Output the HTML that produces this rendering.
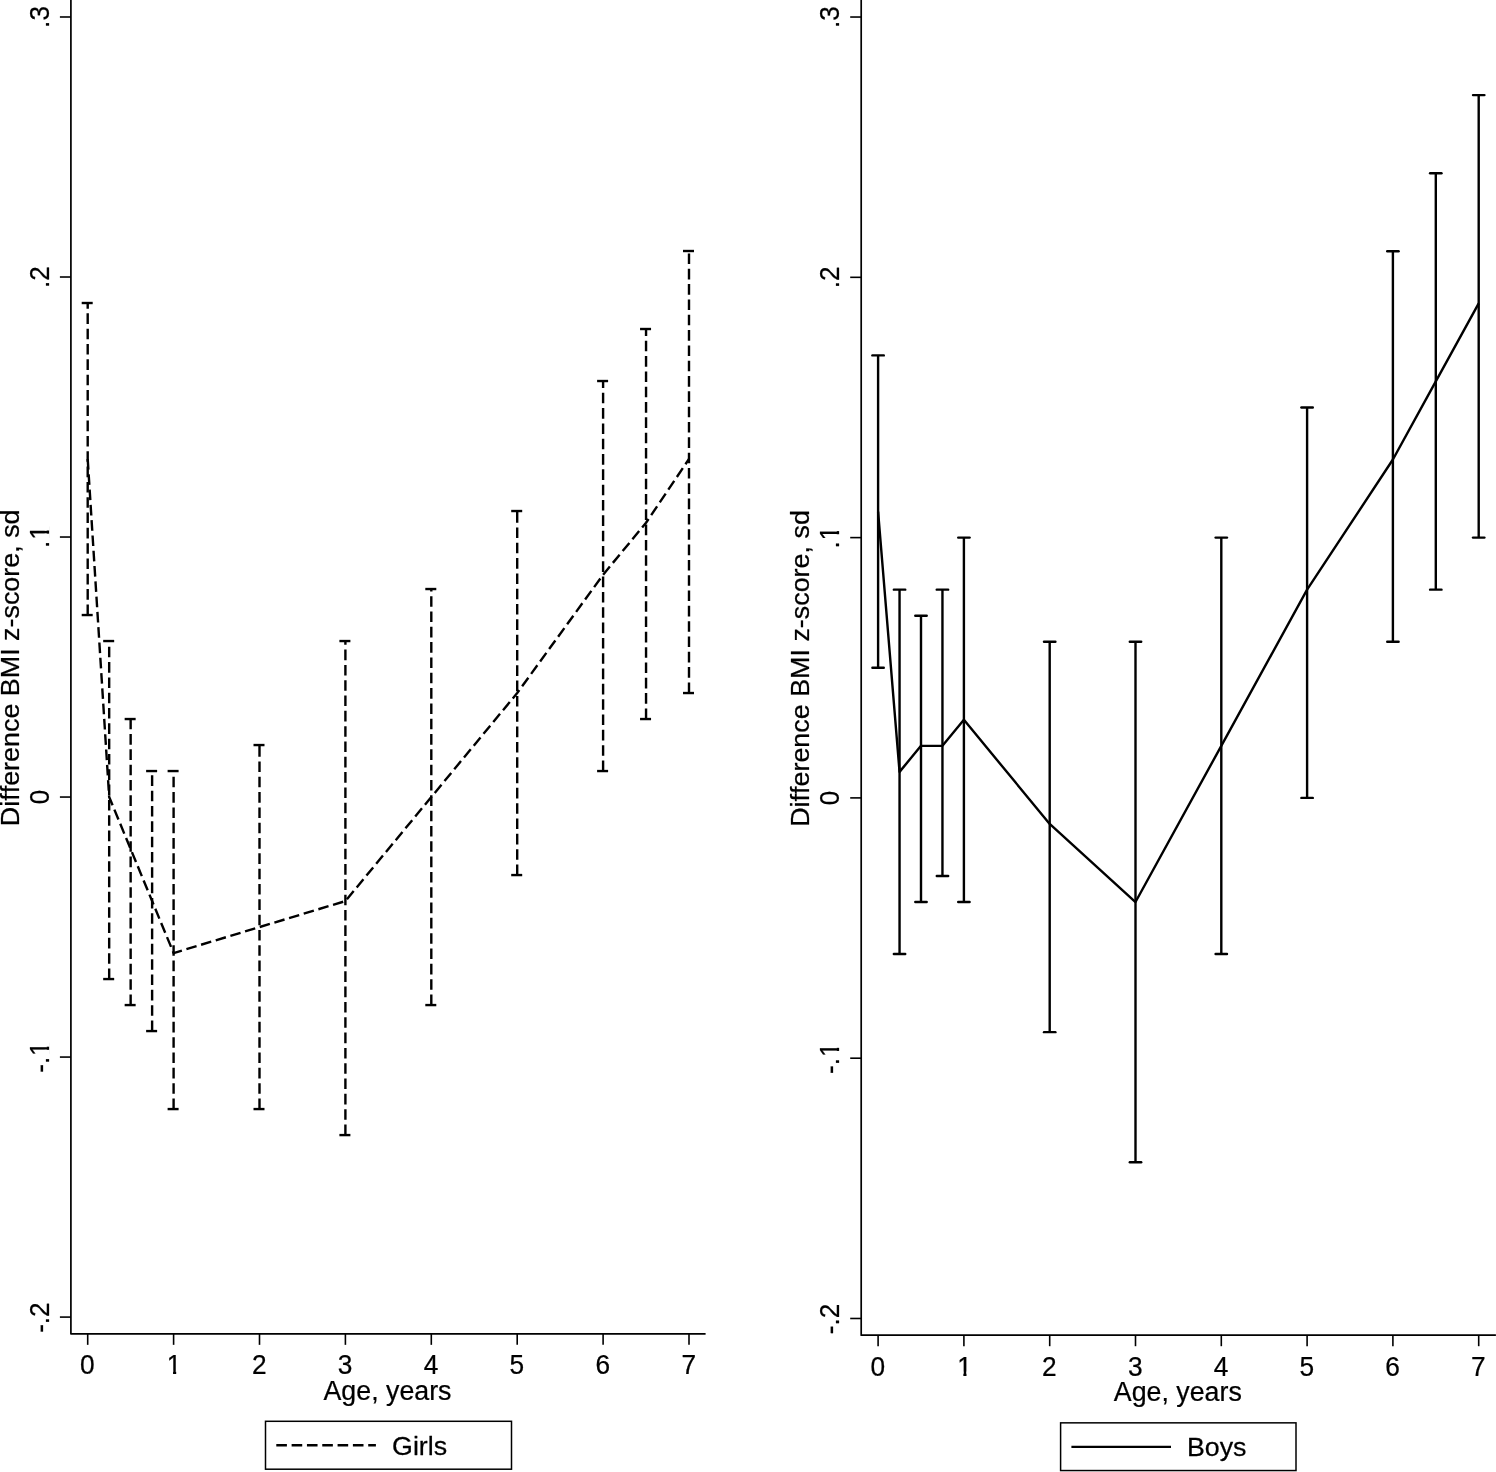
<!DOCTYPE html>
<html lang="en"><head><meta charset="utf-8"><title>Difference BMI z-score by age</title>
<style>
html,body{margin:0;padding:0;background:#fff}
body{width:1496px;height:1472px;overflow:hidden}
svg{display:block}
svg text{font-kerning:none;font-family:"Liberation Sans",Arial,Helvetica,sans-serif;fill:#000;stroke:#000;stroke-width:0.25px;stroke-linejoin:round}
</style></head>
<body>
<svg width="1496" height="1472" viewBox="0 0 1496 1472">
<rect width="1496" height="1472" fill="#fff"/>
<g id="girls">
<path d="M70.90 0V1333.85H705.60" fill="none" stroke="#000" stroke-width="1.7" stroke-linejoin="round"/>
<line x1="59.90" y1="16.99" x2="70.90" y2="16.99" stroke="#000" stroke-width="1.6"/>
<g transform="translate(48.60 16.99) rotate(-90) scale(0.975 1)"><text x="-11.18" y="0" font-size="26.8">.3</text></g>
<line x1="59.90" y1="277.01" x2="70.90" y2="277.01" stroke="#000" stroke-width="1.6"/>
<g transform="translate(48.60 277.01) rotate(-90) scale(0.975 1)"><text x="-11.18" y="0" font-size="26.8">.2</text></g>
<line x1="59.90" y1="537.03" x2="70.90" y2="537.03" stroke="#000" stroke-width="1.6"/>
<g transform="translate(48.60 537.03) rotate(-90) scale(0.975 1)"><text x="-11.18" y="0" font-size="26.8">.<tspan dx="0.88">1</tspan></text><rect x="-2.46" y="-3.93" width="5.92" height="4.98" fill="#fff"/><rect x="6.68" y="-3.93" width="5.68" height="4.98" fill="#fff"/></g>
<line x1="59.90" y1="797.05" x2="70.90" y2="797.05" stroke="#000" stroke-width="1.6"/>
<g transform="translate(48.60 797.05) rotate(-90) scale(0.975 1)"><text x="-7.45" y="0" font-size="26.8">0</text></g>
<line x1="59.90" y1="1057.07" x2="70.90" y2="1057.07" stroke="#000" stroke-width="1.6"/>
<g transform="translate(48.60 1057.57) rotate(-90) scale(0.975 1)"><text x="-15.64" y="0" font-size="26.8">-.<tspan dx="0.88">1</tspan></text><rect x="2.00" y="-3.93" width="5.92" height="4.98" fill="#fff"/><rect x="11.14" y="-3.93" width="5.68" height="4.98" fill="#fff"/></g>
<line x1="59.90" y1="1317.09" x2="70.90" y2="1317.09" stroke="#000" stroke-width="1.6"/>
<g transform="translate(48.60 1317.59) rotate(-90) scale(0.975 1)"><text x="-15.64" y="0" font-size="26.8">-.2</text></g>
<text transform="translate(18.55 667.82) rotate(-90) scale(1.063 1)" font-size="25.3" text-anchor="middle">Difference BMI z-score, sd</text>
<line x1="87.70" y1="1333.85" x2="87.70" y2="1344.85" stroke="#000" stroke-width="1.6"/>
<g transform="translate(87.40 1373.85) scale(0.97 1)"><text x="-7.54" y="0" font-size="27.1">0</text></g>
<line x1="173.60" y1="1333.85" x2="173.60" y2="1344.85" stroke="#000" stroke-width="1.6"/>
<g transform="translate(173.30 1373.85) scale(0.97 1)"><text x="-6.65" y="0" font-size="27.1">1</text><rect x="-6.25" y="-3.97" width="5.99" height="5.02" fill="#fff"/><rect x="2.99" y="-3.97" width="5.74" height="5.02" fill="#fff"/></g>
<line x1="259.50" y1="1333.85" x2="259.50" y2="1344.85" stroke="#000" stroke-width="1.6"/>
<g transform="translate(259.20 1373.85) scale(0.97 1)"><text x="-7.54" y="0" font-size="27.1">2</text></g>
<line x1="345.40" y1="1333.85" x2="345.40" y2="1344.85" stroke="#000" stroke-width="1.6"/>
<g transform="translate(345.10 1373.85) scale(0.97 1)"><text x="-7.54" y="0" font-size="27.1">3</text></g>
<line x1="431.30" y1="1333.85" x2="431.30" y2="1344.85" stroke="#000" stroke-width="1.6"/>
<g transform="translate(431.00 1373.85) scale(0.97 1)"><text x="-7.54" y="0" font-size="27.1">4</text></g>
<line x1="517.20" y1="1333.85" x2="517.20" y2="1344.85" stroke="#000" stroke-width="1.6"/>
<g transform="translate(516.90 1373.85) scale(0.97 1)"><text x="-7.54" y="0" font-size="27.1">5</text></g>
<line x1="603.10" y1="1333.85" x2="603.10" y2="1344.85" stroke="#000" stroke-width="1.6"/>
<g transform="translate(602.80 1373.85) scale(0.97 1)"><text x="-7.54" y="0" font-size="27.1">6</text></g>
<line x1="689.00" y1="1333.85" x2="689.00" y2="1344.85" stroke="#000" stroke-width="1.6"/>
<g transform="translate(688.70 1373.85) scale(0.97 1)"><text x="-7.54" y="0" font-size="27.1">7</text></g>
<text transform="translate(387.50 1400.15) scale(0.957 1)" font-size="28" text-anchor="middle">Age, years</text>
<line x1="87.70" y1="615.04" x2="87.70" y2="303.01" stroke="#000" stroke-width="2.4" stroke-dasharray="10.6 4.72"/>
<line x1="81.70" y1="615.04" x2="92.70" y2="615.04" stroke="#000" stroke-width="2.4"/>
<line x1="81.70" y1="303.01" x2="92.70" y2="303.01" stroke="#000" stroke-width="2.4"/>
<line x1="109.18" y1="979.06" x2="109.18" y2="641.04" stroke="#000" stroke-width="2.4" stroke-dasharray="10.6 4.72"/>
<line x1="103.18" y1="979.06" x2="114.18" y2="979.06" stroke="#000" stroke-width="2.4"/>
<line x1="103.18" y1="641.04" x2="114.18" y2="641.04" stroke="#000" stroke-width="2.4"/>
<line x1="130.65" y1="1005.07" x2="130.65" y2="719.04" stroke="#000" stroke-width="2.4" stroke-dasharray="10.6 4.72"/>
<line x1="124.65" y1="1005.07" x2="135.65" y2="1005.07" stroke="#000" stroke-width="2.4"/>
<line x1="124.65" y1="719.04" x2="135.65" y2="719.04" stroke="#000" stroke-width="2.4"/>
<line x1="152.12" y1="1031.07" x2="152.12" y2="771.05" stroke="#000" stroke-width="2.4" stroke-dasharray="10.6 4.72"/>
<line x1="146.12" y1="1031.07" x2="157.12" y2="1031.07" stroke="#000" stroke-width="2.4"/>
<line x1="146.12" y1="771.05" x2="157.12" y2="771.05" stroke="#000" stroke-width="2.4"/>
<line x1="173.60" y1="1109.07" x2="173.60" y2="771.05" stroke="#000" stroke-width="2.4" stroke-dasharray="10.6 4.72"/>
<line x1="167.60" y1="1109.07" x2="178.60" y2="1109.07" stroke="#000" stroke-width="2.4"/>
<line x1="167.60" y1="771.05" x2="178.60" y2="771.05" stroke="#000" stroke-width="2.4"/>
<line x1="259.50" y1="1109.07" x2="259.50" y2="745.05" stroke="#000" stroke-width="2.4" stroke-dasharray="10.6 4.72"/>
<line x1="253.50" y1="1109.07" x2="264.50" y2="1109.07" stroke="#000" stroke-width="2.4"/>
<line x1="253.50" y1="745.05" x2="264.50" y2="745.05" stroke="#000" stroke-width="2.4"/>
<line x1="345.40" y1="1135.08" x2="345.40" y2="641.04" stroke="#000" stroke-width="2.4" stroke-dasharray="10.6 4.72"/>
<line x1="339.40" y1="1135.08" x2="350.40" y2="1135.08" stroke="#000" stroke-width="2.4"/>
<line x1="339.40" y1="641.04" x2="350.40" y2="641.04" stroke="#000" stroke-width="2.4"/>
<line x1="431.30" y1="1005.07" x2="431.30" y2="589.03" stroke="#000" stroke-width="2.4" stroke-dasharray="10.6 4.72"/>
<line x1="425.30" y1="1005.07" x2="436.30" y2="1005.07" stroke="#000" stroke-width="2.4"/>
<line x1="425.30" y1="589.03" x2="436.30" y2="589.03" stroke="#000" stroke-width="2.4"/>
<line x1="517.20" y1="875.06" x2="517.20" y2="511.03" stroke="#000" stroke-width="2.4" stroke-dasharray="10.6 4.72"/>
<line x1="511.20" y1="875.06" x2="522.20" y2="875.06" stroke="#000" stroke-width="2.4"/>
<line x1="511.20" y1="511.03" x2="522.20" y2="511.03" stroke="#000" stroke-width="2.4"/>
<line x1="603.10" y1="771.05" x2="603.10" y2="381.02" stroke="#000" stroke-width="2.4" stroke-dasharray="10.6 4.72"/>
<line x1="597.10" y1="771.05" x2="608.10" y2="771.05" stroke="#000" stroke-width="2.4"/>
<line x1="597.10" y1="381.02" x2="608.10" y2="381.02" stroke="#000" stroke-width="2.4"/>
<line x1="646.05" y1="719.04" x2="646.05" y2="329.01" stroke="#000" stroke-width="2.4" stroke-dasharray="10.6 4.72"/>
<line x1="640.05" y1="719.04" x2="651.05" y2="719.04" stroke="#000" stroke-width="2.4"/>
<line x1="640.05" y1="329.01" x2="651.05" y2="329.01" stroke="#000" stroke-width="2.4"/>
<line x1="689.00" y1="693.04" x2="689.00" y2="251.01" stroke="#000" stroke-width="2.4" stroke-dasharray="10.6 4.72"/>
<line x1="683.00" y1="693.04" x2="694.00" y2="693.04" stroke="#000" stroke-width="2.4"/>
<line x1="683.00" y1="251.01" x2="694.00" y2="251.01" stroke="#000" stroke-width="2.4"/>
<polyline points="87.70,459.02 109.18,797.05 130.65,849.05 152.12,901.06 173.60,953.06 259.50,927.06 345.40,901.06 431.30,797.05 517.20,693.04 603.10,574.73 646.05,522.73 689.00,459.02" fill="none" stroke="#000" stroke-width="2.4" stroke-linejoin="round" stroke-dasharray="10.6 4.72"/>
<rect x="265.50" y="1421.30" width="246.00" height="47.90" fill="#fff" stroke="#000" stroke-width="1.5"/>
<line x1="276.30" y1="1445.30" x2="375.90" y2="1445.30" stroke="#000" stroke-width="2.4" stroke-dasharray="10.6 4.72"/>
<text transform="translate(392.10 1454.60) scale(1.05 1)" font-size="25.5">Girls</text>
</g>
<g id="boys">
<path d="M861.20 0V1335.20H1495.90" fill="none" stroke="#000" stroke-width="1.7" stroke-linejoin="round"/>
<line x1="850.20" y1="17.03" x2="861.20" y2="17.03" stroke="#000" stroke-width="1.6"/>
<g transform="translate(839.10 17.03) rotate(-90) scale(0.975 1)"><text x="-11.18" y="0" font-size="26.8">.3</text></g>
<line x1="850.20" y1="277.32" x2="861.20" y2="277.32" stroke="#000" stroke-width="1.6"/>
<g transform="translate(839.10 277.32) rotate(-90) scale(0.975 1)"><text x="-11.18" y="0" font-size="26.8">.2</text></g>
<line x1="850.20" y1="537.61" x2="861.20" y2="537.61" stroke="#000" stroke-width="1.6"/>
<g transform="translate(839.10 537.61) rotate(-90) scale(0.975 1)"><text x="-11.18" y="0" font-size="26.8">.<tspan dx="0.88">1</tspan></text><rect x="-2.46" y="-3.93" width="5.92" height="4.98" fill="#fff"/><rect x="6.68" y="-3.93" width="5.68" height="4.98" fill="#fff"/></g>
<line x1="850.20" y1="797.90" x2="861.20" y2="797.90" stroke="#000" stroke-width="1.6"/>
<g transform="translate(839.10 797.90) rotate(-90) scale(0.975 1)"><text x="-7.45" y="0" font-size="26.8">0</text></g>
<line x1="850.20" y1="1058.19" x2="861.20" y2="1058.19" stroke="#000" stroke-width="1.6"/>
<g transform="translate(839.10 1058.69) rotate(-90) scale(0.975 1)"><text x="-15.64" y="0" font-size="26.8">-.<tspan dx="0.88">1</tspan></text><rect x="2.00" y="-3.93" width="5.92" height="4.98" fill="#fff"/><rect x="11.14" y="-3.93" width="5.68" height="4.98" fill="#fff"/></g>
<line x1="850.20" y1="1318.48" x2="861.20" y2="1318.48" stroke="#000" stroke-width="1.6"/>
<g transform="translate(839.10 1318.98) rotate(-90) scale(0.975 1)"><text x="-15.64" y="0" font-size="26.8">-.2</text></g>
<text transform="translate(808.85 668.50) rotate(-90) scale(1.063 1)" font-size="25.3" text-anchor="middle">Difference BMI z-score, sd</text>
<line x1="878.10" y1="1335.20" x2="878.10" y2="1346.20" stroke="#000" stroke-width="1.6"/>
<g transform="translate(877.80 1375.50) scale(0.97 1)"><text x="-7.54" y="0" font-size="27.1">0</text></g>
<line x1="963.90" y1="1335.20" x2="963.90" y2="1346.20" stroke="#000" stroke-width="1.6"/>
<g transform="translate(963.60 1375.50) scale(0.97 1)"><text x="-6.65" y="0" font-size="27.1">1</text><rect x="-6.25" y="-3.97" width="5.99" height="5.02" fill="#fff"/><rect x="2.99" y="-3.97" width="5.74" height="5.02" fill="#fff"/></g>
<line x1="1049.70" y1="1335.20" x2="1049.70" y2="1346.20" stroke="#000" stroke-width="1.6"/>
<g transform="translate(1049.40 1375.50) scale(0.97 1)"><text x="-7.54" y="0" font-size="27.1">2</text></g>
<line x1="1135.50" y1="1335.20" x2="1135.50" y2="1346.20" stroke="#000" stroke-width="1.6"/>
<g transform="translate(1135.20 1375.50) scale(0.97 1)"><text x="-7.54" y="0" font-size="27.1">3</text></g>
<line x1="1221.30" y1="1335.20" x2="1221.30" y2="1346.20" stroke="#000" stroke-width="1.6"/>
<g transform="translate(1221.00 1375.50) scale(0.97 1)"><text x="-7.54" y="0" font-size="27.1">4</text></g>
<line x1="1307.10" y1="1335.20" x2="1307.10" y2="1346.20" stroke="#000" stroke-width="1.6"/>
<g transform="translate(1306.80 1375.50) scale(0.97 1)"><text x="-7.54" y="0" font-size="27.1">5</text></g>
<line x1="1392.90" y1="1335.20" x2="1392.90" y2="1346.20" stroke="#000" stroke-width="1.6"/>
<g transform="translate(1392.60 1375.50) scale(0.97 1)"><text x="-7.54" y="0" font-size="27.1">6</text></g>
<line x1="1478.70" y1="1335.20" x2="1478.70" y2="1346.20" stroke="#000" stroke-width="1.6"/>
<g transform="translate(1478.40 1375.50) scale(0.97 1)"><text x="-7.54" y="0" font-size="27.1">7</text></g>
<text transform="translate(1177.80 1400.65) scale(0.957 1)" font-size="28" text-anchor="middle">Age, years</text>
<line x1="878.10" y1="667.75" x2="878.10" y2="355.41" stroke="#000" stroke-width="2.4"/>
<line x1="872.40" y1="667.75" x2="883.80" y2="667.75" stroke="#000" stroke-width="2.4" stroke-linecap="round"/>
<line x1="872.40" y1="355.41" x2="883.80" y2="355.41" stroke="#000" stroke-width="2.4" stroke-linecap="round"/>
<line x1="899.55" y1="954.07" x2="899.55" y2="589.67" stroke="#000" stroke-width="2.4"/>
<line x1="893.85" y1="954.07" x2="905.25" y2="954.07" stroke="#000" stroke-width="2.4" stroke-linecap="round"/>
<line x1="893.85" y1="589.67" x2="905.25" y2="589.67" stroke="#000" stroke-width="2.4" stroke-linecap="round"/>
<line x1="921.00" y1="902.02" x2="921.00" y2="615.70" stroke="#000" stroke-width="2.4"/>
<line x1="915.30" y1="902.02" x2="926.70" y2="902.02" stroke="#000" stroke-width="2.4" stroke-linecap="round"/>
<line x1="915.30" y1="615.70" x2="926.70" y2="615.70" stroke="#000" stroke-width="2.4" stroke-linecap="round"/>
<line x1="942.45" y1="875.99" x2="942.45" y2="589.67" stroke="#000" stroke-width="2.4"/>
<line x1="936.75" y1="875.99" x2="948.15" y2="875.99" stroke="#000" stroke-width="2.4" stroke-linecap="round"/>
<line x1="936.75" y1="589.67" x2="948.15" y2="589.67" stroke="#000" stroke-width="2.4" stroke-linecap="round"/>
<line x1="963.90" y1="902.02" x2="963.90" y2="537.61" stroke="#000" stroke-width="2.4"/>
<line x1="958.20" y1="902.02" x2="969.60" y2="902.02" stroke="#000" stroke-width="2.4" stroke-linecap="round"/>
<line x1="958.20" y1="537.61" x2="969.60" y2="537.61" stroke="#000" stroke-width="2.4" stroke-linecap="round"/>
<line x1="1049.70" y1="1032.16" x2="1049.70" y2="641.73" stroke="#000" stroke-width="2.4"/>
<line x1="1044.00" y1="1032.16" x2="1055.40" y2="1032.16" stroke="#000" stroke-width="2.4" stroke-linecap="round"/>
<line x1="1044.00" y1="641.73" x2="1055.40" y2="641.73" stroke="#000" stroke-width="2.4" stroke-linecap="round"/>
<line x1="1135.50" y1="1162.31" x2="1135.50" y2="641.73" stroke="#000" stroke-width="2.4"/>
<line x1="1129.80" y1="1162.31" x2="1141.20" y2="1162.31" stroke="#000" stroke-width="2.4" stroke-linecap="round"/>
<line x1="1129.80" y1="641.73" x2="1141.20" y2="641.73" stroke="#000" stroke-width="2.4" stroke-linecap="round"/>
<line x1="1221.30" y1="954.07" x2="1221.30" y2="537.61" stroke="#000" stroke-width="2.4"/>
<line x1="1215.60" y1="954.07" x2="1227.00" y2="954.07" stroke="#000" stroke-width="2.4" stroke-linecap="round"/>
<line x1="1215.60" y1="537.61" x2="1227.00" y2="537.61" stroke="#000" stroke-width="2.4" stroke-linecap="round"/>
<line x1="1307.10" y1="797.90" x2="1307.10" y2="407.46" stroke="#000" stroke-width="2.4"/>
<line x1="1301.40" y1="797.90" x2="1312.80" y2="797.90" stroke="#000" stroke-width="2.4" stroke-linecap="round"/>
<line x1="1301.40" y1="407.46" x2="1312.80" y2="407.46" stroke="#000" stroke-width="2.4" stroke-linecap="round"/>
<line x1="1392.90" y1="641.73" x2="1392.90" y2="251.29" stroke="#000" stroke-width="2.4"/>
<line x1="1387.20" y1="641.73" x2="1398.60" y2="641.73" stroke="#000" stroke-width="2.4" stroke-linecap="round"/>
<line x1="1387.20" y1="251.29" x2="1398.60" y2="251.29" stroke="#000" stroke-width="2.4" stroke-linecap="round"/>
<line x1="1435.80" y1="589.67" x2="1435.80" y2="173.20" stroke="#000" stroke-width="2.4"/>
<line x1="1430.10" y1="589.67" x2="1441.50" y2="589.67" stroke="#000" stroke-width="2.4" stroke-linecap="round"/>
<line x1="1430.10" y1="173.20" x2="1441.50" y2="173.20" stroke="#000" stroke-width="2.4" stroke-linecap="round"/>
<line x1="1478.70" y1="537.61" x2="1478.70" y2="95.12" stroke="#000" stroke-width="2.4"/>
<line x1="1473.00" y1="537.61" x2="1484.40" y2="537.61" stroke="#000" stroke-width="2.4" stroke-linecap="round"/>
<line x1="1473.00" y1="95.12" x2="1484.40" y2="95.12" stroke="#000" stroke-width="2.4" stroke-linecap="round"/>
<polyline points="878.10,511.58 899.55,771.87 921.00,745.84 942.45,745.84 963.90,719.81 1049.70,823.93 1135.50,902.02 1221.30,745.84 1307.10,589.67 1392.90,459.52 1435.80,381.44 1478.70,303.35" fill="none" stroke="#000" stroke-width="2.4" stroke-linejoin="round"/>
<rect x="1060.60" y="1422.85" width="235.40" height="47.70" fill="#fff" stroke="#000" stroke-width="1.5"/>
<line x1="1071.40" y1="1446.85" x2="1171.00" y2="1446.85" stroke="#000" stroke-width="2.4"/>
<text transform="translate(1187.00 1456.15) scale(1.05 1)" font-size="25.5">Boys</text>
</g>
</svg>
</body></html>
